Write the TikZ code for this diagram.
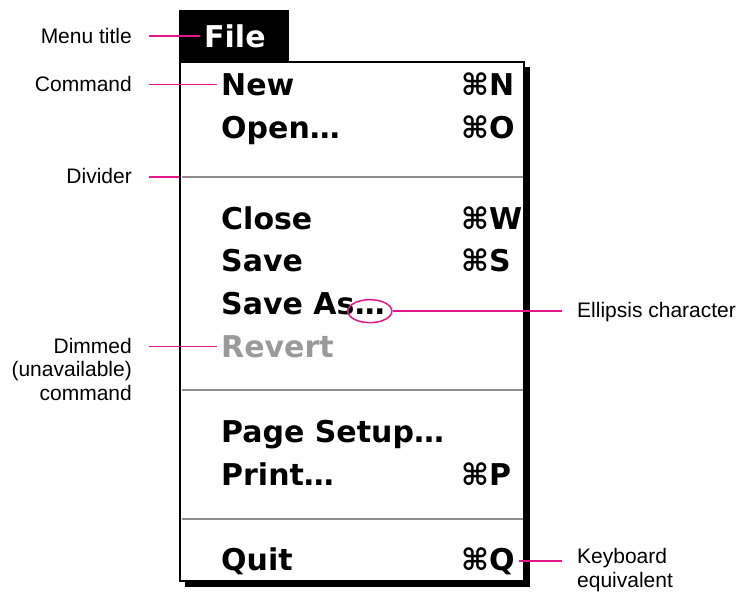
\documentclass[tikz,border=0pt]{standalone}
\usepackage{fontspec}
\setmainfont{Liberation Sans}
\newfontfamily\chicago{DejaVu Sans}
\usepackage{tikz}
\usetikzlibrary{shapes.geometric}
\definecolor{calloutpink}{HTML}{E5158A}
\definecolor{dimgray}{HTML}{9A9A9A}
\definecolor{divgray}{HTML}{8E8E8E}
\newcommand\labfont{\fontsize{21}{23.5}\selectfont}
\newcommand\mnufont{\chicago\bfseries\fontsize{30}{36}\selectfont}

\begin{document}
\begin{tikzpicture}[x=1pt,y=-1pt,
  lab/.style={font=\labfont,inner sep=0pt},
  cmd/.style={font=\mnufont,anchor=base west,inner xsep=4pt,inner ysep=0pt},
  callout/.style={calloutpink,line width=1.5pt},
  divider/.style={divgray,line width=2.2pt}]
\useasboundingbox (0,0) rectangle (739,592);
% menu panel with its drop shadow
\fill (185,67) rectangle (530,587);
\draw[fill=white,line width=2.2pt] (180,62) rectangle (524,581);
\fill (179,10) rectangle (289,62);
\node[cmd,text=white] (filetitle) at (200,47) {File};
\foreach \y in {177,390,519}
  \draw[divider] (181.5,\y) -- (522.5,\y);
\coordinate (div1) at (179,177);
% commands
\foreach \id/\cmdtext/\y in {new/New/95, open/Open…/138, close/Close/229,
  save/Save/271, saveas/Save As/314, pagesetup/Page Setup…/442,
  print/Print…/485, quit/Quit/570}
  \node[cmd] (\id) at (217,\y) {\cmdtext};
\node[cmd,text=dimgray] (revert) at (217,357) {Revert};
% keyboard equivalents
\foreach \id/\keytext/\y in {new/⌘N/95, open/⌘O/138, close/⌘W/229,
  save/⌘S/271, print/⌘P/485, quit/⌘Q/570}
  \node[cmd] (key-\id) at (457,\y) {\keytext};
\node[font=\mnufont,anchor=base west,inner sep=0pt] (dots) at ([xshift=-4pt]saveas.base east) {…};
\node[ellipse,draw=calloutpink,line width=1.5pt,minimum width=44pt,minimum height=23pt,inner sep=0pt] (ring) at (dots.center) {};
% labels
\node[lab,anchor=base east] (titlelab) at (132,43) {Menu title};
\node[lab,anchor=base east] (cmdlab) at (132,91.5) {Command};
\node[lab,anchor=base east] (divlab) at (132,183.5) {Divider};
\node[lab,anchor=base east,align=right] (dimlab) at (132,400) {Dimmed\\(unavailable)\\command};
\node[lab,anchor=west] (elllab) at (577,312.5) {Ellipsis character};
\node[lab,anchor=base west,align=left] (keylab) at (577,587) {Keyboard\\equivalent};
% callout lines
\draw[callout,shorten >=16.5pt] (filetitle.west) -- (filetitle.west -| titlelab.east);
\draw[callout,shorten >=16.5pt] (new.west) -- (new.west -| cmdlab.east);
\draw[callout,shorten >=16.5pt] (div1) -- (div1 -| divlab.east);
\draw[callout,shorten >=16.5pt] (revert.west) -- (revert.west -| dimlab.east);
\draw[callout,shorten >=15pt] (ring.east) -- (ring.east -| elllab.west);
\draw[callout,shorten >=15pt] (key-quit.east) -- (key-quit.east -| keylab.west);
\end{tikzpicture}
\end{document}
